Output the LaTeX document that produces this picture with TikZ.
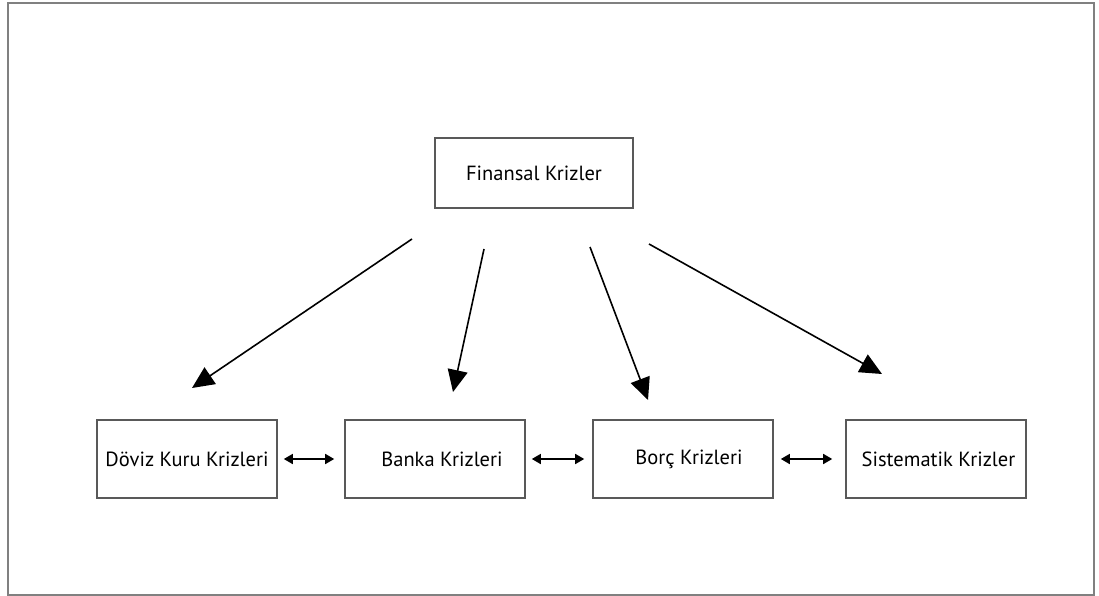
\documentclass[tikz,border=0pt]{standalone}
\usepackage{fontspec}
\setmainfont{PT Sans}
\usetikzlibrary{arrows.meta}
\begin{document}
\begin{tikzpicture}[x=1pt,y=-1pt,
  box/.style={draw=black!65,line width=1.6pt,rectangle,inner sep=0pt,
    minimum width=180pt,minimum height=78pt,font=\fontsize{20.5}{22}\selectfont},
  bigarrow/.style={line width=1.6pt,-{Triangle[length=22pt,width=20pt]}},
  duo/.style={line width=1.6pt,{Triangle[length=9pt,width=10pt]}-{Triangle[length=9pt,width=10pt]}}
]
\useasboundingbox (0,0) rectangle (1099,596);
% outer frame
\draw[black!50,line width=2pt] (7.5,3) rectangle (1094,595);

% top box
\node[box,minimum width=198pt,minimum height=70pt] (fk) at (534,173) {Finansal Krizler};

% bottom row
\node[box] (dk) at (187,459) {Döviz Kuru Krizleri};
\node[box] (bk) at (435,459) {\hspace{14pt}Banka Krizleri};
\node[box] (bc) at (683,459) {\hspace{12pt}Borç Krizleri};
\node[box] (sk) at (936,459) {\hspace{5pt}Sistematik Krizler};

% arrow ends
\coordinate (s1) at (412,239);
\coordinate (e1) at (192,388);
\coordinate (s2) at (484,249);
\coordinate (e2) at (453,392);
\coordinate (s3) at (590,247);
\coordinate (e3) at (648,400);
\coordinate (s4) at (649,244);
\coordinate (e4) at (882,374);

\draw[bigarrow] (s1) -- (e1);
\draw[bigarrow] (s2) -- (e2);
\draw[bigarrow] (s3) -- (e3);
\draw[bigarrow] (s4) -- (e4);

% links between neighbouring crises
\draw[duo,shorten <=6pt,shorten >=10pt] (dk.east) -- (bk.west);
\draw[duo,shorten <=6pt,shorten >=8pt] (bk.east) -- (bc.west);
\draw[duo,shorten <=7pt,shorten >=13pt] (bc.east) -- (sk.west);
\end{tikzpicture}
\end{document}
